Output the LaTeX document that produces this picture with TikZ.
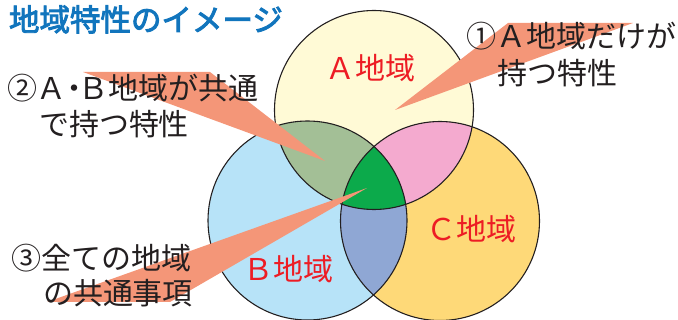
\documentclass[tikz,border=0pt]{standalone}
\usepackage{fontspec}
\setmainfont{Noto Sans CJK JP}
\newfontfamily\titlefont[FakeBold=3]{Noto Sans CJK JP}
\definecolor{Afill}{HTML}{FFFAD6}
\definecolor{Bfill}{HTML}{B7E3F8}
\definecolor{Cfill}{HTML}{FED978}
\definecolor{ABfill}{HTML}{A3BF96}
\definecolor{ACfill}{HTML}{F4AACF}
\definecolor{BCfill}{HTML}{8FA7D4}
\definecolor{ABCfill}{HTML}{0CAA4B}
\definecolor{salmon}{HTML}{F49678}
\definecolor{titleblue}{HTML}{1175BD}
\definecolor{ink}{HTML}{231F20}
\definecolor{redtxt}{HTML}{ED1C24}
\begin{document}
\begin{tikzpicture}[x=1pt,y=-1pt,
  lbl/.style={anchor=base west,inner sep=0pt,outer sep=0pt,font=\fontsize{30}{30}\selectfont,text=ink},
  redlbl/.style={lbl,text=redtxt},
  titlelbl/.style={lbl,font=\fontsize{30.5}{30}\selectfont\titlefont,text=titleblue},
  wedge/.style={fill=salmon,draw=none},
  outline/.style={draw=ink,line width=1.1pt}]
\useasboundingbox (0,0) rectangle (678,320);
\def\R{99.5pt}
\coordinate (cA) at (374,110);
\coordinate (cB) at (307.5,220.5);
\coordinate (cC) at (440,221);
% base fills
\fill[Afill] (cA) circle[radius=\R];
\fill[Bfill] (cB) circle[radius=\R];
\fill[Cfill] (cC) circle[radius=\R];
% pairwise intersections
\begin{scope}\clip (cA) circle[radius=\R]; \fill[ABfill] (cB) circle[radius=\R];\end{scope}
\begin{scope}\clip (cA) circle[radius=\R]; \fill[ACfill] (cC) circle[radius=\R];\end{scope}
\begin{scope}\clip (cB) circle[radius=\R]; \fill[BCfill] (cC) circle[radius=\R];\end{scope}
\begin{scope}\clip (cA) circle[radius=\R]; \clip (cB) circle[radius=\R]; \fill[ABCfill] (cC) circle[radius=\R];\end{scope}
% outlines
\draw[outline] (cA) circle[radius=\R];
\draw[outline] (cB) circle[radius=\R];
\draw[outline] (cC) circle[radius=\R];
% callout wedges
\coordinate (t1) at (395,110);
\coordinate (b1a) at (508,23);
\coordinate (b1b) at (633,23);
\coordinate (t2) at (325,161);
\coordinate (b2a) at (83,72);
\coordinate (b2b) at (210,72);
\coordinate (t3) at (367,188);
\coordinate (b3a) at (47,302);
\coordinate (b3b) at (170,302);
\fill[wedge] (t1) -- (b1a) -- (b1b) -- cycle;
\fill[wedge] (t2) -- (b2a) -- (b2b) -- cycle;
\fill[wedge] (t3) -- (b3a) -- (b3b) -- cycle;
% texts
\node[titlelbl] (title) at (9,31) {地域特性のイメージ};
\node[lbl] (l1a) at (466,48) {①Ａ地域だけが};
\node[lbl] (l1b) at (497,85) {持つ特性};
\node[lbl] (l2a) at (7,100) {②Ａ\kern-8pt・\kern-10pt Ｂ地域が共通};
\node[lbl] (l2b) at (39,136) {で持つ特性};
\node[lbl] (l3a) at (12,270) {③全ての地域};
\node[lbl] (l3b) at (43,305) {の共通事項};
\node[redlbl] (nA) at (325,80) {Ａ地域};
\node[redlbl] (nB) at (243,281) {Ｂ地域};
\node[redlbl] (nC) at (426,241) {Ｃ地域};
\end{tikzpicture}
\end{document}
